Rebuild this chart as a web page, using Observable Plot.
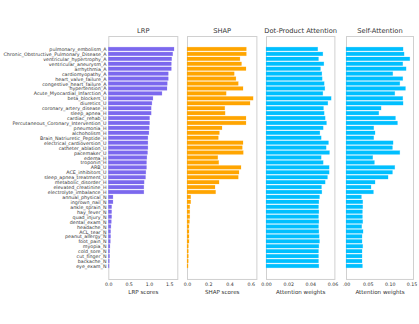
<!DOCTYPE html>
<html><head><meta charset="utf-8">
<script src="https://cdn.jsdelivr.net/npm/d3@7"></script>
<script src="https://cdn.jsdelivr.net/npm/@observablehq/plot@0.6"></script>
<style>
body{margin:0;background:#fff;}
#chart{position:relative;width:419px;height:324px;overflow:hidden;background:#fff;}
#chart svg{position:absolute;top:0;}
</style>
</head><body><div id="chart"></div>
<script>
const features = ["pulmonary_embolism_A","Chronic_Obstructive_Pulmonary_Disease_A","ventricular_hypertrophy_A","ventricular_aneurysm_A","arrhythmia_A","cardiomyopathy_A","heart_valve_failure_A","congestive_heart_failure_A","hypertension_A","Acute_Myocardial_Infarction_A","beta_blockers_U","diuretics_U","coronary_artery_disease_H","sleep_apnea_H","cardiac_rehab_U","Percutaneous_Coronary_Intervention_U","pneumonia_H","alchoholism_H","Brain_Natriuretic_Peptide_H","electrical_cardioversion_U","catheter_ablation_U","pacemaker_U","edema_H","troponin_H","ARB_U","ACE_inhibitors_U","sleep_apnea_treatment_U","metabolic_disorder_H","elevated_creatinine_H","electrolyte_imbalance_H","annual_physical_N","ingrown_nail_N","ankle_sprain_N","hay_fever_N","quad_injury_N","dental_exam_N","headache_N","ACL_tear_N","peanut_allergy_N","foot_pain_N","myopia_N","cold_sore_N","cut_finger_N","backache_N","eye_exam_N"];

const lrpScores = [1.616,1.584,1.559,1.55,1.55,1.475,1.475,1.45,1.443,1.319,1.097,1.072,1.054,1.054,1.015,1.015,1.005,0.998,0.973,0.973,0.973,0.965,0.948,0.94,0.94,0.923,0.916,0.881,0.874,0.874,0.114,0.114,0.082,0.082,0.082,0.074,0.064,0.057,0.057,0.05,0.04,0.032,0.032,0.025,0.02];

const shapScores = [0.559,0.559,0.499,0.514,0.556,0.445,0.461,0.483,0.528,0.369,0.623,0.594,0.356,0.359,0.556,0.556,0.33,0.305,0.295,0.528,0.521,0.53,0.29,0.299,0.509,0.49,0.483,0.302,0.264,0.27,0.035,0.035,0.026,0.026,0.026,0.023,0.019,0.019,0.019,0.019,0.013,0.013,0.013,0.012,0.01];

const dotAttention = [0.0467,0.0513,0.0474,0.0522,0.0492,0.0504,0.0507,0.0525,0.0531,0.0513,0.0588,0.0558,0.0519,0.0525,0.0534,0.0546,0.0516,0.0486,0.0498,0.0564,0.0543,0.0573,0.0498,0.0516,0.057,0.057,0.0555,0.0534,0.0501,0.0504,0.0483,0.0477,0.0474,0.0477,0.0474,0.0477,0.0474,0.0477,0.048,0.0483,0.0477,0.0474,0.0474,0.0474,0.0477];

const selfAttention = [0.1307,0.133,0.1461,0.130,0.1376,0.1071,0.130,0.1232,0.1362,0.1117,0.130,0.1307,0.0803,0.075,0.1133,0.1179,0.0635,0.0665,0.0635,0.1078,0.1064,0.1232,0.0612,0.0651,0.1117,0.1064,0.0963,0.0665,0.0573,0.0628,0.0353,0.0383,0.0383,0.0376,0.0376,0.0383,0.036,0.039,0.0367,0.0367,0.0383,0.0367,0.0367,0.0367,0.0376];

const titles = ["LRP","SHAP","Dot-Product Attention","Self-Attention"];
const xLabels = ["LRP scores","SHAP scores","Attention weights","Attention weights"];
const tickValues = [[0,0.5,1.0,1.5],[0,0.2,0.4,0.6],[0,0.02,0.04,0.06],[0,0.05,0.10,0.15]];
const tickFormats = [d3.format(".1f"), d3.format(".1f"), d3.format(".2f"), d => d === 0 ? ".00" : d3.format(".2f")(d)];
const series = [lrpScores, shapScores, dotAttention, selfAttention];
const colors = ["#7B68EE","#FFA500","#00BFFF","#00BFFF"];

// layout of each panel's frame (pixels)
const frames = [[108.3,177.3],[187.3,256.7],[266.3,334.7],[346.3,413.3]];

const chart = document.getElementById("chart");
series.forEach((vals, i) => {
  const [fl, fr] = frames[i];
  const ml = i === 0 ? fl : 12;
  const mr = i === 3 ? 5.7 : 8;
  const data = features.map((f, j) => ({feature: f, value: vals[j]}));
  const marks = [
    Plot.frame({stroke: "#d0d0d0", strokeWidth: 1}),
    Plot.barX(data, {x: "value", y: "feature", fill: colors[i], stroke: colors[i], strokeOpacity: 0.3, strokeWidth: 0.6}),
    Plot.axisX({ticks: tickValues[i], tickFormat: tickFormats[i], tickSize: 0, tickPadding: 3.5, fontSize: 4.7, label: null}),
    Plot.text([titles[i]], {frameAnchor: "top", dy: -5.7, fontSize: 6.7, lineAnchor: "middle"}),
    Plot.text([xLabels[i]], {frameAnchor: "bottom", dy: 13, fontSize: 5.6, lineAnchor: "middle"})
  ];
  if (i === 0) marks.push(Plot.axisY({tickSize: 0, tickPadding: 2.3, fontSize: 4.8, label: null}));
  const svg = Plot.plot({
    width: ml + (fr - fl) + mr,
    height: 324,
    marginLeft: ml, marginRight: mr, marginTop: 36, marginBottom: 45,
    style: {background: "transparent", fontFamily: "DejaVu Sans", color: "#333333", overflow: "visible"},
    x: {domain: [0, 1.05 * d3.max(vals)]},
    y: {domain: features, paddingInner: 0.25, paddingOuter: 2.26, align: 0.5, axis: i === 0 ? undefined : null},
    marks
  });
  svg.style.left = (fl - ml) + "px";
  chart.appendChild(svg);
});
</script>
</body></html>
